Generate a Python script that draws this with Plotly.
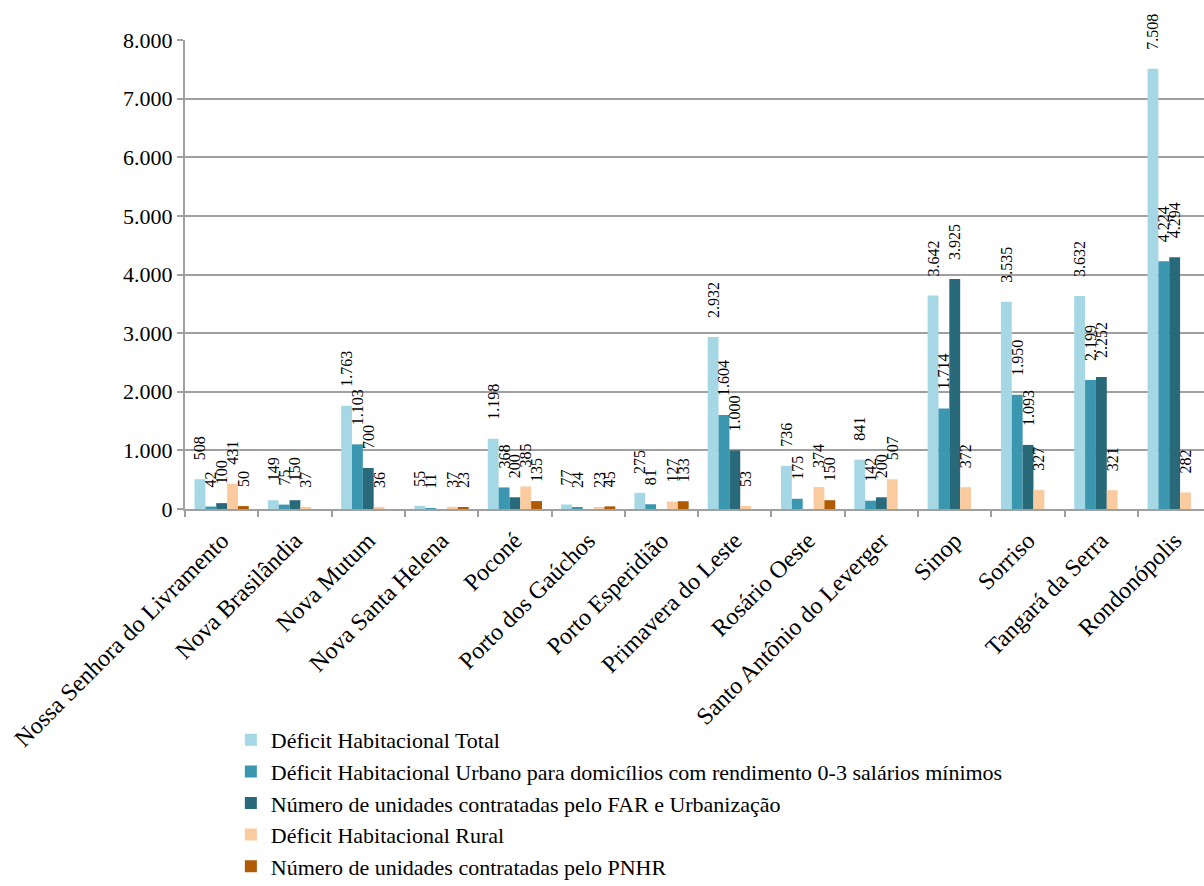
import plotly.graph_objects as go

municipios = [
    "Nossa Senhora do Livramento", "Nova Brasilândia", "Nova Mutum",
    "Nova Santa Helena", "Poconé", "Porto dos Gaúchos", "Porto Esperidião",
    "Primavera do Leste", "Rosário Oeste", "Santo Antônio do Leverger",
    "Sinop", "Sorriso", "Tangará da Serra", "Rondonópolis",
]

deficit_total = [508, 149, 1763, 55, 1198, 77, 275, 2932, 736, 841, 3642, 3535, 3632, 7508]
deficit_urbano = [42, 75, 1103, 11, 368, 24, 81, 1604, 175, 142, 1714, 1950, 2199, 4224]
unidades_far = [100, 150, 700, None, 200, None, None, 1000, None, 200, 3925, 1093, 2252, 4294]
deficit_rural = [431, 37, 36, 37, 385, 23, 127, 53, 374, 507, 372, 327, 321, 282]
unidades_pnhr = [50, None, None, 23, 135, 45, 133, None, 150, None, None, None, None, None]

series = [
    ("Déficit Habitacional Total", deficit_total, "#A5D7E5"),
    ("Déficit Habitacional Urbano para domicílios com rendimento 0-3 salários mínimos",
     deficit_urbano, "#3A97AF"),
    ("Número de unidades contratadas pelo FAR e Urbanização", unidades_far, "#28697A"),
    ("Déficit Habitacional Rural", deficit_rural, "#FBCBA0"),
    ("Número de unidades contratadas pelo PNHR", unidades_pnhr, "#B05A04"),
]

FONT = "Liberation Serif"
# Leading en spaces lift the rotated value labels clear of the bar tops
LABEL_PAD = "\u2002\u2002"

fig = go.Figure()
for name, values, color in series:
    fig.add_trace(go.Bar(
        name=name,
        x=municipios,
        y=values,
        marker=dict(color=color, line=dict(width=0)),
        texttemplate=LABEL_PAD + "%{y:,.0f}",
        textposition="outside",
        textangle=-90,
        constraintext="none",
        cliponaxis=False,
        textfont=dict(family=FONT, size=16, color="black"),
    ))

fig.update_layout(
    width=1204,
    height=886,
    margin=dict(l=185, r=0, t=40, b=377, autoexpand=False),
    paper_bgcolor="white",
    plot_bgcolor="white",
    barmode="group",
    bargap=0.26,
    bargroupgap=0,
    separators=",.",
    font=dict(family=FONT, size=20, color="black"),
    showlegend=True,
    legend=dict(
        x=0.045, y=-0.4478, xanchor="left", yanchor="top",
        font=dict(family=FONT, size=22, color="black"),
        bgcolor="rgba(0,0,0,0)",
    ),
    xaxis=dict(
        type="category",
        range=[-0.5, 13.4],
        automargin=False,
        tickangle=-45,
        tickson="boundaries",
        ticks="outside",
        ticklen=6,
        tickwidth=2,
        tickcolor="#A0A0A0",
        ticklabelstandoff=6,
        showline=True,
        linecolor="#A0A0A0",
        linewidth=2,
        showgrid=False,
        tickfont=dict(family=FONT, size=24),
    ),
    yaxis=dict(
        range=[0, 8000],
        dtick=1000,
        automargin=False,
        tickformat=",.0f",
        ticks="outside",
        ticklen=6,
        tickwidth=2,
        tickcolor="#A0A0A0",
        showline=True,
        linecolor="#A0A0A0",
        linewidth=2,
        showgrid=True,
        gridcolor="#A0A0A0",
        gridwidth=2,
        zeroline=False,
        tickfont=dict(family=FONT, size=22),
    ),
)

fig.write_html("out.html")
